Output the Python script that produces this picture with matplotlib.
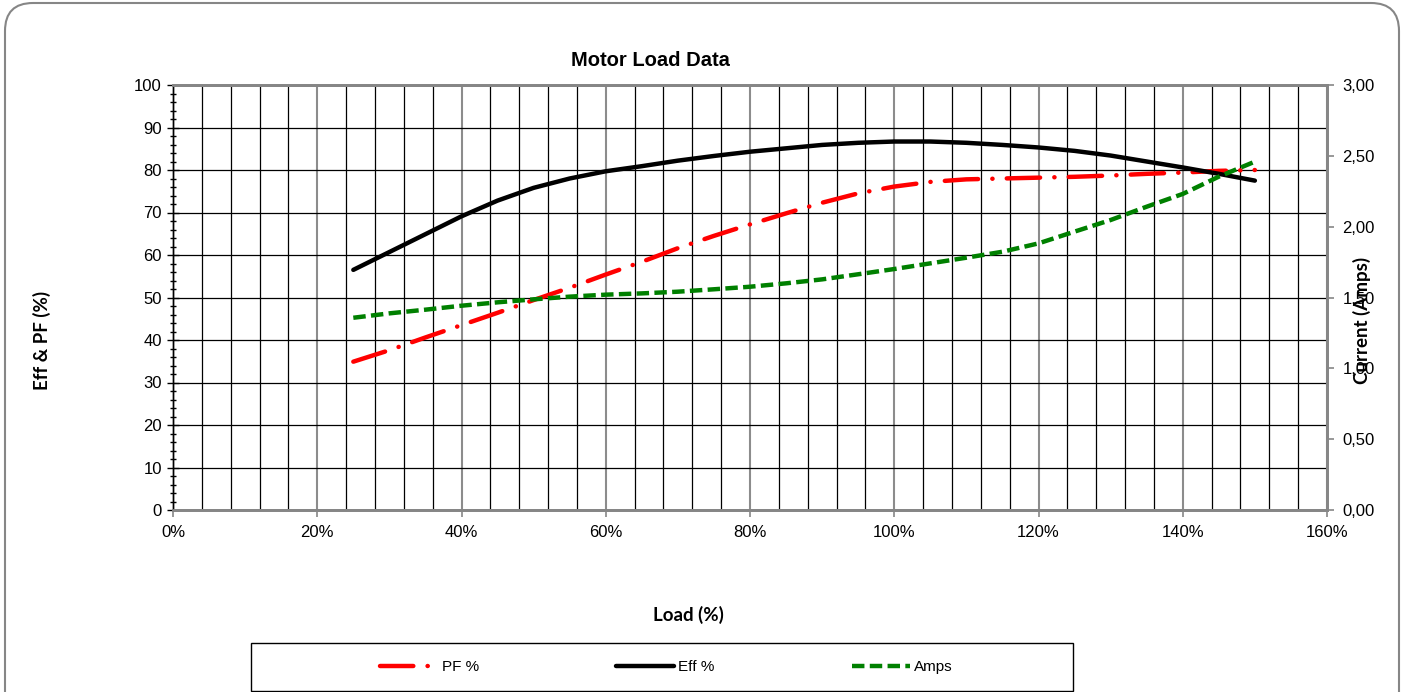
import matplotlib
matplotlib.use("Agg")
import matplotlib.pyplot as plt
from matplotlib.patches import FancyBboxPatch, Rectangle
from matplotlib.transforms import IdentityTransform
from matplotlib.ticker import MultipleLocator, FuncFormatter

plt.rcParams['font.family'] = ['Liberation Sans', 'DejaVu Sans']

# values, every 5 % of load
load = [25, 30, 35, 40, 45, 50, 55, 60, 65, 70, 75, 80, 85, 90, 95, 100,
        105, 110, 115, 120, 125, 130, 135, 140, 145, 150]
eff = [56.5, 60.7, 64.9, 69.1, 72.8, 75.8, 78.0, 79.7, 80.9, 82.2, 83.3,
       84.3, 85.1, 85.9, 86.4, 86.7, 86.7, 86.4, 85.9, 85.3, 84.5, 83.4,
       82.0, 80.6, 79.1, 77.5]
pf = [34.9, 37.6, 40.6, 43.5, 46.4, 49.4, 52.3, 55.4, 58.4, 61.6, 64.5,
      67.2, 69.8, 72.3, 74.5, 76.1, 77.2, 77.8, 78.0, 78.2, 78.4, 78.7,
      79.1, 79.4, 79.8, 80.0]
amps = [1.357, 1.388, 1.414, 1.442, 1.466, 1.487, 1.506, 1.520, 1.529,
        1.541, 1.558, 1.576, 1.600, 1.628, 1.664, 1.701, 1.741, 1.781,
        1.823, 1.882, 1.965, 2.047, 2.141, 2.231, 2.353, 2.459]

AXIS_GREY = "#868686"
LABEL_FONT = ['Lato', 'DejaVu Sans']
W, H = 1403, 692

fig = plt.figure(figsize=(W / 100, H / 100), dpi=100)

# rounded chart-area border, bottom runs off the picture
border = FancyBboxPatch((5, -60), 1394, 749, boxstyle="round,pad=0,rounding_size=28",
                        transform=IdentityTransform(), facecolor="none",
                        edgecolor=AXIS_GREY, linewidth=1.5)
fig.patches.append(border)

ax = fig.add_axes([173/W, 1 - 510/H, (1327 - 173)/W, (510 - 85)/H])
ax2 = ax.twinx()

ax.set_xlim(0, 160)
ax.set_ylim(0, 100)
ax2.set_ylim(0, 3)

# grid
ax.xaxis.set_major_locator(MultipleLocator(20))
ax.xaxis.set_minor_locator(MultipleLocator(4))
ax.yaxis.set_major_locator(MultipleLocator(10))
ax.yaxis.set_minor_locator(MultipleLocator(2))
ax.grid(True, axis="x", which="minor", color="black", linewidth=0.9)
ax.grid(True, axis="x", which="major", color="#8c8c8c", linewidth=1.5)
ax.grid(True, axis="y", which="major", color="black", linewidth=0.9)
ax.set_axisbelow(True)

ax.xaxis.set_major_formatter(FuncFormatter(lambda v, p: f"{int(v)}%"))
ax2.yaxis.set_major_locator(MultipleLocator(0.5))
ax2.yaxis.set_major_formatter(FuncFormatter(lambda v, p: f"{v:.2f}".replace(".", ",")))

ax.tick_params(axis="y", which="major", direction="inout", length=8, width=1,
               labelsize=12, pad=4)
ax.tick_params(axis="y", which="minor", direction="inout", length=5, width=1)
ax.tick_params(axis="x", which="major", direction="out", length=5, width=1.2,
               color=AXIS_GREY, labelsize=12, pad=6)
ax.tick_params(axis="x", which="minor", length=0)
ax2.tick_params(axis="y", direction="out", length=5, width=1.2, color=AXIS_GREY,
                labelsize=12, pad=6)

for a in (ax, ax2):
    for side in ("top", "right", "bottom"):
        a.spines[side].set_color(AXIS_GREY)
        a.spines[side].set_linewidth(2)
    a.spines["left"].set_color("black")
    a.spines["left"].set_linewidth(1)

# series
l_pf, = ax.plot(load, pf, color="red", linewidth=3.2,
                dashes=(7.5, 3.2, 0.05, 3.2), dash_capstyle="round")
l_eff, = ax.plot(load, eff, color="black", linewidth=3.2, solid_capstyle="round",
                 solid_joinstyle="round")
l_amps, = ax2.plot(load, amps, color="#008000", linewidth=3.2, dashes=(2.8, 1.2))

fig.text(650/W, 1 - 60/H, "Motor Load Data", ha="center", va="center",
         fontsize=14.5, fontweight="bold")
fig.text(42/W, 1 - 340/H, "Eff & PF (%)", rotation=90, ha="center", va="center",
         fontsize=13.5, fontweight="bold", family=LABEL_FONT)
fig.text(1362/W, 1 - 320/H, "Current (Amps)", rotation=90, ha="center", va="center",
         fontsize=13.5, fontweight="bold", family=LABEL_FONT)
fig.text(688/W, 1 - 615/H, "Load (%)", ha="center", va="center",
         fontsize=13.5, fontweight="bold", family=LABEL_FONT)

# legend box drawn separately so the entries can sit centred inside it
fig.patches.append(Rectangle((251/W, 1 - 691/H), (1073 - 251)/W, (691 - 643)/H,
                             transform=fig.transFigure, facecolor="white",
                             edgecolor="black", linewidth=1))
fig.legend(handles=[l_pf, l_eff, l_amps], labels=["PF %", "Eff %", "Amps"],
           loc="center", ncol=3, bbox_to_anchor=(666/W, 1 - 667/H),
           frameon=False, fontsize=11, handlelength=3.8, handletextpad=0.25,
           columnspacing=9)

fig.savefig("out.png", dpi=100)
